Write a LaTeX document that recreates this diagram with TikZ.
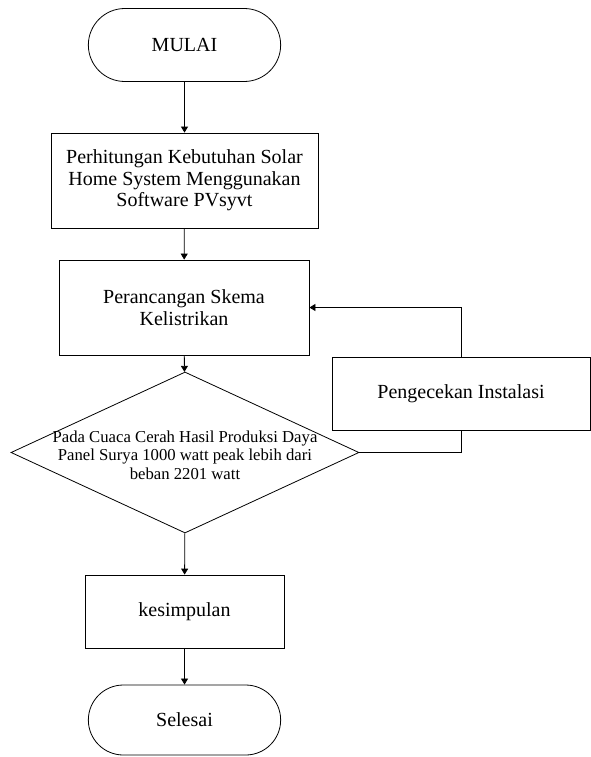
\documentclass[tikz,border=0pt]{standalone}
\usepackage{fontspec}
\setmainfont{Liberation Serif}
\usetikzlibrary{arrows.meta, shapes.geometric, shapes.misc}
\tikzset{
    terminal/.style={draw, rounded rectangle, minimum width=199pt, minimum height=73pt,
        font=\fontsize{20}{21.5}\selectfont},
    process/.style={draw, rectangle, align=center, inner sep=0pt,
        font=\fontsize{20}{21.5}\selectfont},
    decision/.style={draw, diamond, minimum width=348pt, minimum height=161pt, inner sep=0pt},
    decisiontext/.style={align=center, inner sep=0pt, font=\fontsize{16.7}{18.5}\selectfont},
    flow/.style={draw, -{Triangle[length=6pt,width=7pt]}},
    link/.style={draw},
}

\begin{document}
\begin{tikzpicture}[x=1pt, y=-1pt, line width=0.8pt]
\useasboundingbox (0,0) rectangle (590,757);

\node[terminal] (mulai) at (184.5, 45) {MULAI};
\node[process, minimum width=267pt, minimum height=95pt] (hitung) at (184.5, 180.5)
    {Perhitungan Kebutuhan Solar\\Home System Menggunakan\\Software PVsyvt};
\node[process, minimum width=250pt, minimum height=95pt] (skema) at (184, 307.5)
    {Perancangan Skema\\Kelistrikan};
\node[decision] (cek) at (185, 452.5) {};
\node[decisiontext] (cektext) at (185, 455)
    {Pada Cuaca Cerah Hasil Produksi Daya\\Panel Surya 1000 watt peak lebih dari\\beban 2201 watt};
\node[process, minimum width=258pt, minimum height=73pt] (instalasi) at (461, 393.5)
    {Pengecekan Instalasi};
\node[process, minimum width=199pt, minimum height=73pt] (simpul) at (184.5, 611.5) {kesimpulan};
\node[terminal, minimum height=70pt] (selesai) at (184.5, 720) {Selesai};

\draw[flow] (mulai) -- (hitung);
\draw[flow] (hitung) -- (skema);
\draw[flow] (skema) -- (cek);
\draw[flow] (cek) -- (simpul);
\draw[flow] (simpul) -- (selesai);

% loop back through the check
\draw[link] (cek.east) -| (instalasi.south);
\draw[flow] (instalasi.north) |- (skema.east);

\end{tikzpicture}
\end{document}
